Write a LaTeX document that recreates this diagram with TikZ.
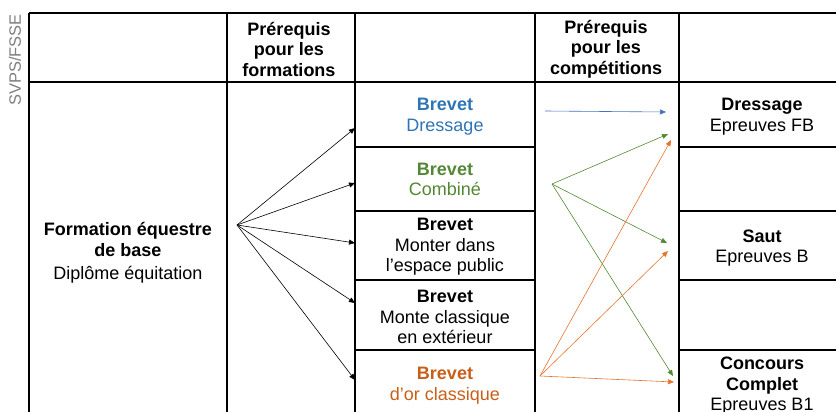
\documentclass[tikz,border=0pt]{standalone}
\usepackage{fontspec}
\setmainfont{Liberation Sans}
\usetikzlibrary{arrows.meta}
\definecolor{brB}{RGB}{46,117,182}
\definecolor{brG}{RGB}{84,135,53}
\definecolor{brO}{RGB}{200,95,25}
\definecolor{arB}{RGB}{68,114,196}
\definecolor{arO}{RGB}{230,115,45}

\begin{document}
\begin{tikzpicture}[x=1pt,y=-1pt,>={Triangle[length=6pt,width=5pt]},
  txt/.style={font=\fontsize{18}{20.5}\selectfont,align=center,inner sep=0pt},
  hd/.style={txt,font=\fontsize{18}{20.5}\selectfont\bfseries},
  grid/.style={line width=1.1pt},
  fan/.style={->,line width=0.6pt}]
\useasboundingbox (0,0) rectangle (838,412);
% table
\draw[grid] (29,13)--(836,13) (29,82)--(836,82);
\foreach \x in {29,227,355,535,679} \draw[grid] (\x,13)--(\x,412);
\foreach \y in {147,211,280,350} {\draw[grid] (355,\y)--(535,\y); \draw[grid] (679,\y)--(836,\y);}
\node[txt,rotate=90,text=black!50,font=\fontsize{16.5}{18}\selectfont] (svps) at (15,60) {SVPS/FSSE};
\node[hd] (hdForm) at (289,49) {Prérequis\\pour les\\formations};
\node[hd] (hdComp) at (606,49) {Prérequis\\pour les\\compétitions};
\node[txt] (base) at (128,253) {\textbf{Formation équestre}\\\textbf{de base}\\[3pt]Diplôme équitation};
% brevets
\node[txt,text=brB] (bDres) at (445,116.5) {\textbf{Brevet}\\Dressage};
\node[txt,text=brG] (bComb) at (445,179.5) {\textbf{Brevet}\\Combiné};
\node[txt] (bPubl) at (445,247) {\textbf{Brevet}\\Monter dans\\l’espace public};
\node[txt] (bExt) at (445,317) {\textbf{Brevet}\\Monte classique\\en extérieur};
\node[txt,text=brO] (bOr) at (445,385.5) {\textbf{Brevet}\\d’or classique};
% competitions
\node[txt] (cDres) at (762,116.5) {\textbf{Dressage}\\Epreuves FB};
\node[txt] (cSaut) at (762,248) {\textbf{Saut}\\Epreuves B};
\node[txt] (cCC) at (762,386) {\textbf{Concours}\\\textbf{Complet}\\Epreuves B1};
% arrows formation -> brevets
\coordinate (fanO) at (237,225);
\foreach \y [count=\i] in {128,183,243,303,380} \coordinate (fan\i) at (355,\y);
\foreach \i in {1,...,5} \draw[fan] (fanO)--(fan\i);
% arrows brevets -> competitions
\coordinate (dO) at (545,111); \coordinate (dE) at (666,112);
\draw[fan,arB] (dO)--(dE);
\coordinate (gO) at (552,184);
\coordinate (gE1) at (668,134); \coordinate (gE2) at (667,243); \coordinate (gE3) at (673,376);
\foreach \i in {1,2,3} \draw[fan,brG] (gO)--(gE\i);
\coordinate (oO) at (540,376);
\coordinate (oE1) at (671,140); \coordinate (oE2) at (668,251); \coordinate (oE3) at (674,382);
\foreach \i in {1,2,3} \draw[fan,arO] (oO)--(oE\i);
\end{tikzpicture}
\end{document}
